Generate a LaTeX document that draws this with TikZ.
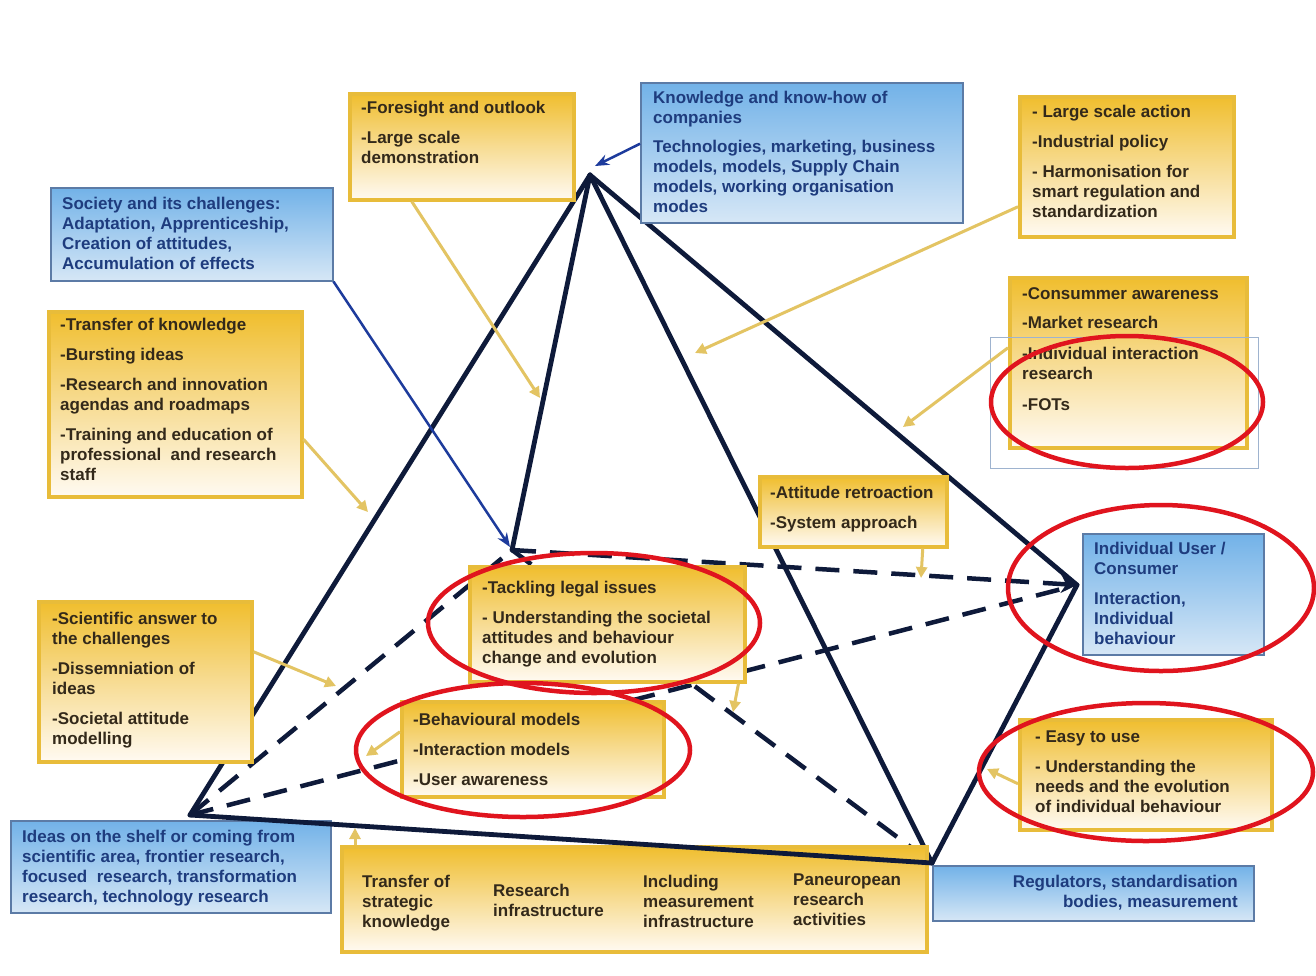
\documentclass[tikz,border=0pt]{standalone}
\usepackage{fontspec}
\setmainfont{Liberation Sans}
\usetikzlibrary{arrows.meta,calc}
\definecolor{navy}{HTML}{0E1A3A}
\definecolor{gold}{HTML}{E8BC3A}
\definecolor{goldtop}{HTML}{F0BE2E}
\definecolor{goldmid}{HTML}{F7DC93}
\definecolor{goldbot}{HTML}{FFFAF2}
\definecolor{bluetop}{HTML}{72B2E8}
\definecolor{bluebot}{HTML}{D6E7F6}
\definecolor{blueedge}{HTML}{5C7BA6}
\definecolor{bluetext}{HTML}{1E3C7E}
\definecolor{ytext}{HTML}{33291A}
\definecolor{arrowgold}{HTML}{E3C463}
\definecolor{arrowblue}{HTML}{1D3B9C}
\definecolor{redring}{HTML}{E0141E}
\definecolor{thinframe}{HTML}{9EB3CF}
\tikzset{
 ybox/.style={anchor=north west, draw=gold, line width=3.5pt, top color=goldtop, bottom color=goldbot, middle color=goldmid, inner sep=0pt},
 bbox/.style={anchor=north west, draw=blueedge, line width=1.5pt, top color=bluetop, bottom color=bluebot, inner sep=0pt},
 ytxt/.style={anchor=north west, inner sep=0pt, align=left, text=ytext, font=\fontsize{17}{20}\selectfont\bfseries},
 btxt/.style={ytxt, text=bluetext},
 solidedge/.style={draw=navy, line width=4.8pt, line cap=round},
 dashedge/.style={draw=navy, line width=4.5pt, dash pattern=on 24pt off 14pt},
 yarrow/.style={draw=arrowgold, line width=3pt, -{Triangle[length=11pt,width=11pt]}},
 barrow/.style={draw=arrowblue, line width=2.5pt, -{Stealth[length=14pt,width=11pt]}},
 ring/.style={draw=redring, line width=4.5pt},
}
\begin{document}
\begin{tikzpicture}[x=1pt,y=-1pt]
\useasboundingbox[fill=white] (0,0) rectangle (1316,975);
% pyramid vertices
\coordinate (A) at (590,175);
\coordinate (L) at (190,815);
\coordinate (M) at (512,550);
\coordinate (R) at (1077,585);
\coordinate (B) at (932,863);
% pyramid edges
\draw[solidedge] (A) -- (L);
\draw[solidedge] (A) -- (M);
\draw[solidedge] (A) -- (B);
\draw[solidedge] (A) -- (R);
\draw[solidedge] (R) -- (B);
\draw[dashedge] (L) -- (M);
\draw[dashedge] (L) -- (R);
\draw[dashedge, -{Stealth[length=16pt,width=18pt]}] (M) -- (R);
\draw[dashedge, -{Stealth[length=14pt,width=14pt]}] (M) -- (B);

% boxes
\node[ybox, minimum width=224pt, minimum height=106pt] (fore) at (348,92) {};
\node[ytxt] (foret) at (361,101) {-Foresight and outlook\\[10pt]-Large scale\\demonstration};

\node[bbox, minimum width=322pt, minimum height=140pt] (know) at (640,82) {};
\node[btxt] (knowt) at (653,91) {Knowledge and know-how of\\companies\\[9pt]Technologies, marketing, business\\models, models, Supply Chain\\models, working organisation\\modes};

\node[ybox, minimum width=214pt, minimum height=140pt] (large) at (1018,95) {};
\node[ytxt] (larget) at (1032,105) {- Large scale action\\[10pt]-Industrial policy\\[10pt]- Harmonisation for\\smart regulation and\\standardization};

\node[bbox, minimum width=282pt, minimum height=93pt] (soc) at (50,187) {};
\node[btxt] (soct) at (62,197) {Society and its challenges:\\Adaptation, Apprenticeship,\\Creation of attitudes,\\Accumulation of effects};

\node[ybox, minimum width=253pt, minimum height=185pt] (trans) at (47,310) {};
\node[ytxt] (transt) at (60,318) {-Transfer of knowledge\\[10pt]-Bursting ideas\\[10pt]-Research and innovation\\agendas and roadmaps\\[10pt]-Training and education of\\professional\ \ and research\\staff};

\node[ybox, minimum width=237pt, minimum height=170pt] (cons) at (1008,276) {};
\node[ytxt] (const) at (1022,287) {-Consummer awareness\\[9pt]-Market research\\[11pt]-Individual interaction\\research\\[11pt]-FOTs};

\node[ybox, minimum width=187pt, minimum height=70pt] (att) at (758,475) {};
\node[ytxt] (attt) at (770,486) {-Attitude retroaction\\[10pt]-System approach};

\node[ybox, minimum width=275pt, minimum height=115pt] (tack) at (468,565) {};
\node[ytxt] (tackt) at (482,581) {-Tackling legal issues\\[10pt]- Understanding the societal\\attitudes and behaviour\\change and evolution};

\node[bbox, minimum width=181pt, minimum height=121pt] (user) at (1082,533) {};
\node[btxt] (usert) at (1094,542) {Individual User /\\Consumer\\[10pt]Interaction,\\Individual\\behaviour};

\node[ybox, minimum width=213pt, minimum height=160pt] (sci) at (37,600) {};
\node[ytxt] (scit) at (52,612) {-Scientific answer to\\the challenges\\[10pt]-Dissemniation of\\ideas\\[10pt]-Societal attitude\\modelling};

\node[ybox, minimum width=262pt, minimum height=95pt] (beh) at (400,700) {};
\node[ytxt] (beht) at (413,713) {-Behavioural models\\[10pt]-Interaction models\\[10pt]-User awareness};

\node[ybox, minimum width=252pt, minimum height=110pt] (easy) at (1018,718) {};
\node[ytxt] (easyt) at (1035,731) {- Easy to use\\[10pt]- Understanding the\\needs and the evolution\\of individual behaviour};

\node[bbox, minimum width=320pt, minimum height=92pt] (ideas) at (10,820) {};
\node[btxt] (ideast) at (22,830) {Ideas on the shelf or coming from\\scientific area, frontier research,\\focused\ \ research, transformation\\research, technology research};

\node[ybox, minimum width=585pt, minimum height=105pt] (bot) at (340,845) {};
\node[ytxt] (bot1) at (362,875) {Transfer of\\strategic\\knowledge};
\node[ytxt] (bot2) at (493,884) {Research\\infrastructure};
\node[ytxt] (bot3) at (643,875) {Including\\measurement\\infrastructure};
\node[ytxt] (bot4) at (793,874) {Paneuropean\\research\\activities};

\node[bbox, minimum width=321pt, minimum height=55pt] (reg) at (932,865) {};
\node[btxt, anchor=north east, align=right] (regt) at (1238,875) {Regulators, standardisation\\bodies, measurement};

% base edge drawn over the lower box edge
\draw[solidedge] (L) -- (B);

% thin frame around consumer box
\draw[thinframe, line width=1pt] (990,337) rectangle (1258,468);

% yellow connectors
\coordinate (e1) at (540,398);
\coordinate (e2) at (368,512);
\coordinate (e3) at (695,353);
\coordinate (e4) at (903,427);
\coordinate (e5) at (336,686);
\coordinate (e6) at (366,756);
\coordinate (e7) at (733,712);
\coordinate (e8) at (921,578);
\coordinate (e9) at (987,769);
\coordinate (e10) at (355,828);
\draw[yarrow] ([xshift=-50pt]fore.south) -- (e1);
\draw[yarrow] ([yshift=-35pt]trans.east) -- (e2);
\draw[yarrow] ([yshift=-40pt]large.west) -- (e3);
\draw[yarrow] ([yshift=15pt]cons.west) -- (e4);
\draw[yarrow] ([yshift=30pt]sci.east) -- (e5);
\draw[yarrow] ([yshift=17.5pt]beh.west) -- (e6);
\draw[yarrow] ([xshift=-8pt]tack.south east) -- (e7);
\draw[yarrow] ([xshift=69.5pt]att.south) -- (e8);
\draw[yarrow] ([yshift=-9pt]easy.west) -- (e9);
\draw[yarrow] ([xshift=15pt]bot.north west) -- (e10);

% blue connectors
\coordinate (Atip) at (595,166);
\coordinate (Mtip) at (510,547);
\draw[barrow] ([yshift=9pt]know.west) -- (Atip);
\draw[barrow] (soc.south east) -- (Mtip);

% red rings
\draw[ring] (1127,402) ellipse [x radius=136, y radius=66];
\draw[ring] (594,623) ellipse [x radius=166, y radius=70];
\draw[ring] (523,750) ellipse [x radius=167, y radius=67];
\draw[ring] (1161,588) ellipse [x radius=153, y radius=83];
\draw[ring] (1146,772) ellipse [x radius=167, y radius=69];
\end{tikzpicture}
\end{document}
